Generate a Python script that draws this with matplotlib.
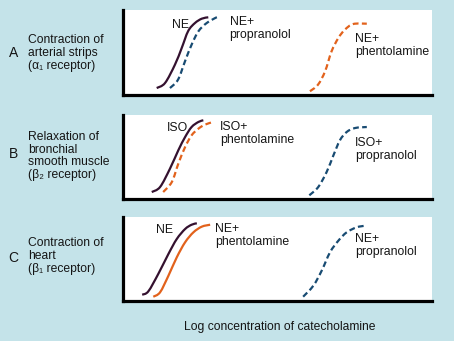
import numpy as np
import matplotlib
matplotlib.use("Agg")
import matplotlib.pyplot as plt
from matplotlib.path import Path
from matplotlib.patches import PathPatch

plt.rcParams["font.family"] = ["Liberation Sans", "DejaVu Sans"]

BG = "#c4e3e9"
DARK = "#34112f"
NAVY = "#184b72"
ORANGE = "#e2621c"

# x: log concentration (arbitrary units, axis 0-10); y: response (% of axis height)
# Panel A - contraction of arterial strips (alpha1)
a_ne_x = [1.09, 1.36, 1.68, 1.90, 2.11, 2.33, 2.55, 2.76]
a_ne_y = [8.2, 14.1, 35.6, 55.3, 75.3, 84.7, 89.8, 91.4]
a_prop_x = [1.52, 1.78, 2.01, 2.22, 2.44, 2.71, 3.03, 3.14]
a_prop_y = [8.2, 18.0, 40.0, 59.2, 74.9, 84.7, 91.4, 92.6]
a_phen_x = [6.05, 6.31, 6.54, 6.75, 6.97, 7.18, 7.45, 7.89]
a_phen_y = [4.4, 12.1, 27.9, 51.4, 67.1, 76.8, 83.5, 83.9]

# Panel B - relaxation of bronchial smooth muscle (beta2)
b_iso_x = [0.93, 1.20, 1.52, 1.79, 2.01, 2.22, 2.44, 2.60]
b_iso_y = [8.3, 14.3, 36.1, 58.0, 73.8, 85.7, 91.7, 93.7]
b_phen_x = [1.30, 1.58, 1.79, 2.01, 2.22, 2.44, 2.65, 2.92]
b_phen_y = [8.3, 20.2, 42.0, 61.9, 75.8, 83.7, 88.5, 91.7]
b_prop_x = [6.03, 6.32, 6.59, 6.81, 7.02, 7.24, 7.51, 7.89]
b_prop_y = [4.4, 14.3, 32.1, 52.0, 69.9, 79.8, 84.5, 85.7]

# Panel C - contraction of heart (beta1)
c_ne_x = [0.62, 0.82, 1.14, 1.47, 1.74, 2.01, 2.22, 2.39]
c_ne_y = [7.5, 11.5, 32.1, 56.0, 73.8, 85.7, 90.8, 92.5]
c_phen_x = [0.98, 1.20, 1.47, 1.74, 2.01, 2.28, 2.55, 2.82]
c_phen_y = [5.1, 10.4, 30.1, 52.0, 69.9, 81.8, 88.5, 90.8]
c_prop_x = [5.83, 6.16, 6.43, 6.70, 6.97, 7.24, 7.56, 7.83]
c_prop_y = [5.1, 18.2, 36.1, 58.0, 71.8, 81.8, 87.7, 89.6]

panel_letters = ["A", "B", "C"]
panel_titles = [
    "Contraction of\narterial strips\n(α₁ receptor)",
    "Relaxation of\nbronchial\nsmooth muscle\n(β₂ receptor)",
    "Contraction of\nheart\n(β₁ receptor)",
]
x_label = "Log concentration of catecholamine"

W, H = 454, 341
SOLID = "-"
DASH = (0, (2.6, 1.5))
TXT = "#151515"

panels = [
    dict(rect=(123, 10, 432, 95), letter_y=53, title_y=53,
         curves=[(a_ne_x, a_ne_y, DARK, SOLID),
                 (a_prop_x, a_prop_y, NAVY, DASH),
                 (a_phen_x, a_phen_y, ORANGE, DASH)],
         labels=[(2.12, 82.5, "NE", "right", "center"),
                 (3.45, 93.0, "NE+\npropranolol", "left", "top"),
                 (7.52, 73.0, "NE+\nphentolamine", "left", "top")]),
    dict(rect=(123, 115, 432, 199), letter_y=154, title_y=156,
         curves=[(b_iso_x, b_iso_y, DARK, SOLID),
                 (b_phen_x, b_phen_y, ORANGE, DASH),
                 (b_prop_x, b_prop_y, NAVY, DASH)],
         labels=[(2.11, 85.0, "ISO", "right", "center"),
                 (3.14, 92.5, "ISO+\nphentolamine", "left", "top"),
                 (7.52, 73.5, "ISO+\npropranolol", "left", "top")]),
    dict(rect=(123, 217, 432, 301), letter_y=258, title_y=256,
         curves=[(c_ne_x, c_ne_y, DARK, SOLID),
                 (c_phen_x, c_phen_y, ORANGE, SOLID),
                 (c_prop_x, c_prop_y, NAVY, DASH)],
         labels=[(1.63, 84.5, "NE", "right", "center"),
                 (2.98, 92.5, "NE+\nphentolamine", "left", "top"),
                 (7.52, 81.0, "NE+\npropranolol", "left", "top")]),
]


def smooth_path(x, y):
    """Catmull-Rom curve through the given points, as cubic Bezier segments."""
    p = np.column_stack([x, y]).astype(float)
    ext = np.vstack([p[0], p, p[-1]])
    verts = [p[0]]
    codes = [Path.MOVETO]
    for i in range(len(p) - 1):
        p0, p1, p2, p3 = ext[i], ext[i + 1], ext[i + 2], ext[i + 3]
        c1 = p1 + (p2 - p0) / 6.0
        c2 = p2 - (p3 - p1) / 6.0
        verts += [c1, c2, p2]
        codes += [Path.CURVE4] * 3
    return Path(verts, codes)


fig = plt.figure(figsize=(W / 100, H / 100), dpi=100)
fig.patch.set_facecolor(BG)


def fx(px):
    return px / W


def fy(py):
    return 1 - py / H


for panel, letter, title in zip(panels, panel_letters, panel_titles):
    x0, y0, x1, y1 = panel["rect"]
    ax = fig.add_axes([fx(x0), fy(y1), (x1 - x0) / W, (y1 - y0) / H])
    ax.set_facecolor("white")
    ax.set_xlim(0, 10)
    ax.set_ylim(0, 100)
    for side in ("top", "right"):
        ax.spines[side].set_visible(False)
    for side in ("left", "bottom"):
        ax.spines[side].set_linewidth(2.3)
        ax.spines[side].set_color("black")
    ax.set_xticks([])
    ax.set_yticks([])

    for cx, cy, color, ls in panel["curves"]:
        patch = PathPatch(smooth_path(cx, cy), fill=False, edgecolor=color,
                          lw=1.6, linestyle=ls, capstyle="butt",
                          joinstyle="round")
        ax.add_patch(patch)

    for tx, ty, txt, ha, va in panel["labels"]:
        ax.text(tx, ty, txt, ha=ha, va=va, fontsize=8.8, color=TXT,
                linespacing=1.1)

    fig.text(fx(13.5), fy(panel["letter_y"]), letter, ha="center",
             va="center", fontsize=10, color=TXT)
    fig.text(fx(28.5), fy(panel["title_y"]), title, ha="left", va="center",
             fontsize=8.7, color=TXT, linespacing=1.1)

fig.text(fx(279.5), fy(327), x_label, ha="center", va="center",
         fontsize=8.7, color=TXT)

fig.savefig("out.png", dpi=100, facecolor=BG)
